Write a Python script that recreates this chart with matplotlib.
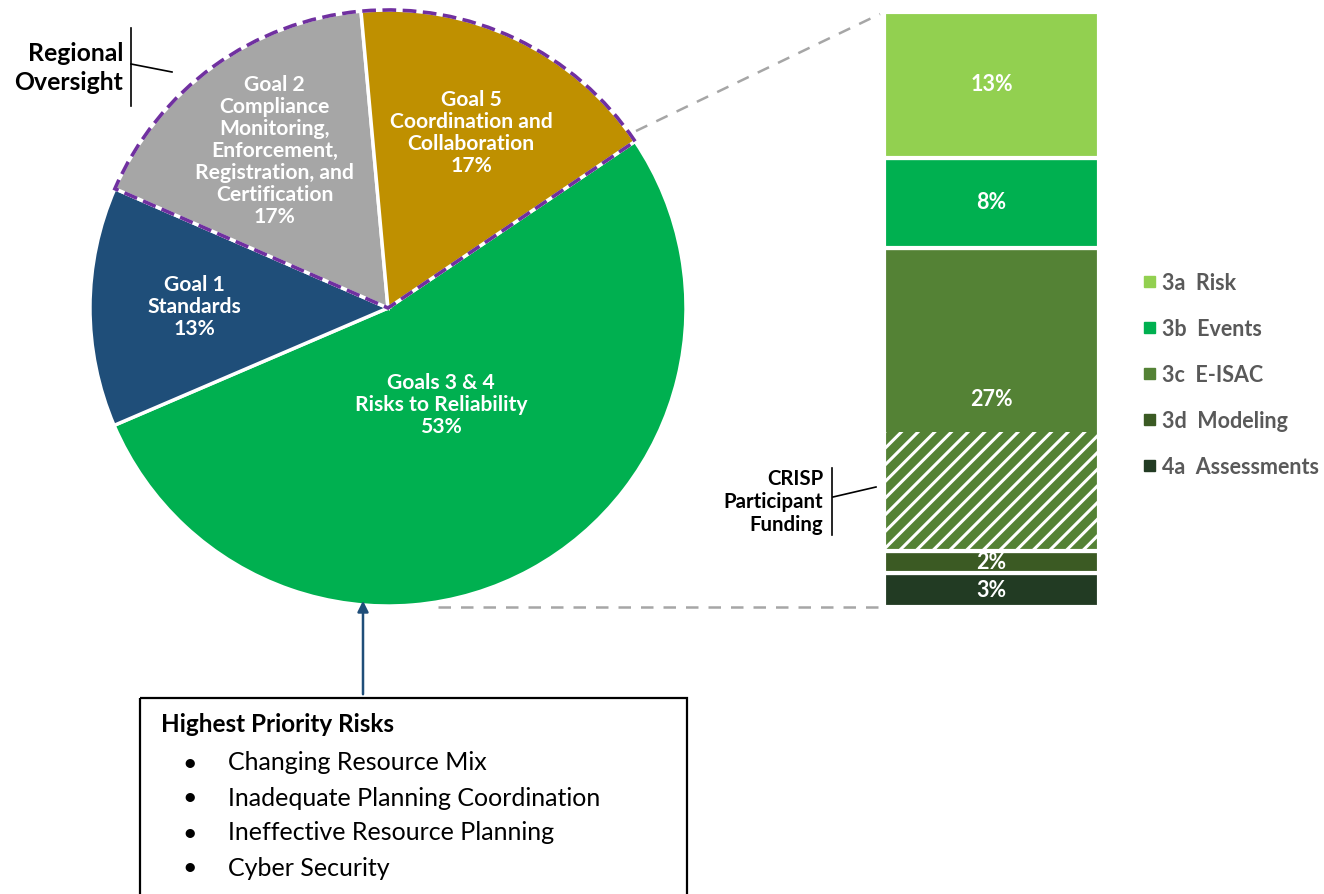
import matplotlib
matplotlib.use("Agg")
import matplotlib.pyplot as plt
from matplotlib.patches import Wedge, Rectangle, FancyArrowPatch
import numpy as np

plt.rcParams['font.family'] = ['Lato', 'DejaVu Sans']
plt.rcParams['hatch.linewidth'] = 2.2

# ---- data ----
goal_labels = ["Goals 3 & 4\nRisks to Reliability", "Goal 1\nStandards",
               "Goal 2\nCompliance\nMonitoring,\nEnforcement,\nRegistration, and\nCertification",
               "Goal 5\nCoordination and\nCollaboration"]
goal_values = [53, 13, 17, 17]
goal_colors = ["#00B050", "#1F4E79", "#A6A6A6", "#BF9000"]

# stacked bar, bottom to top
sub_labels = ["4a  Assessments", "3d  Modeling", "3c  E-ISAC", "3b  Events", "3a  Risk"]
sub_values = [3, 2, 27, 8, 13]
sub_colors = ["#223B23", "#3B5A23", "#548235", "#00B050", "#92D050"]
crisp_share = 10.5  # hatched part of 3c

risks = ["Changing Resource Mix", "Inadequate Planning Coordination",
         "Ineffective Resource Planning", "Cyber Security"]

W, H = 1324, 894
fig = plt.figure(figsize=(W / 100, H / 100), dpi=100)


def fbox(x0, y0, x1, y1):
    # pixel box (top-left origin) -> figure fraction rect
    return [x0 / W, 1 - y1 / H, (x1 - x0) / W, (y1 - y0) / H]


# ---- pie ----
cx, cy, r = 388, 308, 301
axp = fig.add_axes(fbox(cx - r, cy - r, cx + r, cy + r))
wedges, _ = axp.pie(goal_values, colors=goal_colors, startangle=34, counterclock=False,
                    radius=1, wedgeprops=dict(edgecolor="white", linewidth=2.5))
axp.set_xlim(-1.01, 1.01)
axp.set_ylim(-1.01, 1.01)
axp.axis("off")

for w, lab, val, dist in zip(wedges, goal_labels, goal_values, [0.37, 0.65, 0.65, 0.65]):
    ang = np.deg2rad((w.theta1 + w.theta2) / 2)
    axp.text(dist * np.cos(ang), dist * np.sin(ang), f"{lab}\n{val}%", ha="center", va="center",
             color="white", fontsize=15.2, fontweight="bold", linespacing=1.12)

# regional oversight outline (goal 2 + goal 5)
ro_start = wedges[3].theta1 % 360
ro_end = wedges[2].theta2 % 360
axp.add_patch(Wedge((0, 0), 1, ro_start, ro_end, fill=False, edgecolor="#7030A0",
                    linewidth=2.6, linestyle=(0, (3.8, 1.8)), zorder=5))

# ---- stacked bar ----
bx0, bx1, by0, by1 = 884, 1099, 12, 607
axb = fig.add_axes(fbox(bx0, by0, bx1, by1))
bottom = 0
conts = []
for v, c in zip(sub_values, sub_colors):
    conts.append(axb.bar(0, v, bottom=bottom, width=1, color=c, edgecolor="white", linewidth=3))
    bottom += v
crisp_bottom = sub_values[0] + sub_values[1]
axb.bar(0, crisp_share, bottom=crisp_bottom + 0.1, width=0.994, color="none",
        edgecolor="white", hatch="//", linewidth=0)
for cont, v in zip(conts, sub_values):
    t = axb.bar_label(cont, labels=[f"{v}%"], label_type="center", color="white",
                      fontsize=15.5, fontweight="bold")
    for tt in t:
        tt.set_zorder(10)
axb.set_xlim(-0.5, 0.5)
axb.set_ylim(0, sum(sub_values))
axb.axis("off")

# ---- overlay for annotations ----
ov = fig.add_axes([0, 0, 1, 1], zorder=10)
ov.set_xlim(0, W)
ov.set_ylim(H, 0)
ov.axis("off")
ov.patch.set_alpha(0)

# connector lines pie -> bar
ov.plot([636, 880], [131, 14], color="#A6A6A6", lw=1.8, ls=(0, (5, 4)))
ov.plot([438, 880], [607, 607], color="#A6A6A6", lw=1.8, ls=(0, (5, 4)))

# legend
for i, (lab, c) in enumerate(zip(sub_labels[::-1], sub_colors[::-1])):
    y = 284 + i * 46
    ov.add_patch(Rectangle((1144, y - 8), 11, 11, color=c))
    ov.text(1162, y, lab, ha="left", va="center", color="#595959",
            fontsize=15.5, fontweight="bold")

# regional oversight label
ov.text(123, 68, "Regional\nOversight", ha="right", va="center", fontsize=17.8,
        fontweight="bold", color="black", linespacing=1.32)
ov.plot([131, 131], [28, 106], color="black", lw=1.2)
ov.plot([131, 172], [64, 72], color="black", lw=1.2)

# CRISP label
ov.text(823, 502, "CRISP\nParticipant\nFunding", ha="right", va="center", fontsize=14.7,
        fontweight="bold", color="black", linespacing=1.2)
ov.plot([832, 832], [468, 535], color="black", lw=1.2)
ov.plot([833, 876], [497, 487], color="black", lw=1.2)

# arrow from box to pie
ov.add_patch(FancyArrowPatch((363, 697), (363, 598), arrowstyle="-|>", mutation_scale=16,
                             color="#1F4E79", lw=1.8))

# risks box
ov.add_patch(Rectangle((140, 698), 547, 210, fill=False, edgecolor="black", lw=1.6))
ov.text(161, 724, "Highest Priority Risks", ha="left", va="center", fontsize=17.5,
        fontweight="bold")
for i, t in enumerate(risks):
    y = 763 + i * 35
    ov.text(190, y, "\u2022", ha="center", va="center", fontsize=18)
    ov.text(228, y, t, ha="left", va="center", fontsize=18)

fig.savefig("out.png", dpi=100)
